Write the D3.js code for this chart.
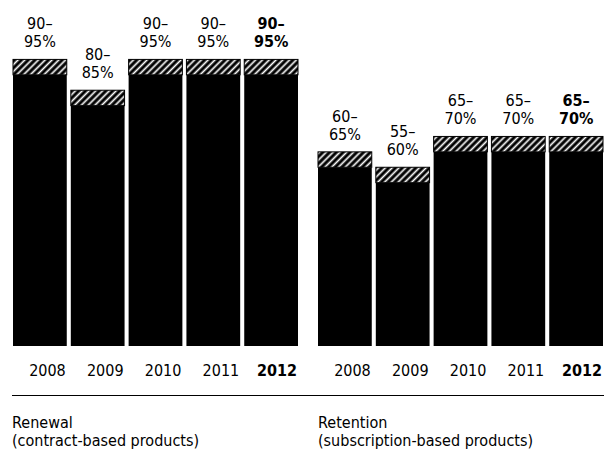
<!DOCTYPE html>
<html>
<head>
<meta charset="utf-8">
<script src="https://cdn.jsdelivr.net/npm/d3@7"></script>
<style>
  html, body { margin: 0; padding: 0; background: #fff; }
  svg { display: block; }
  text { font-family: "Liberation Sans Narrow", "Arial Narrow", "DejaVu Sans Condensed", "DejaVu Sans", sans-serif; font-stretch: condensed; fill: #000; }
</style>
</head>
<body>
<svg id="chart" width="604" height="452"></svg>
<script>
// Years shown under each group
const years = ["2008", "2009", "2010", "2011", "2012"];

// Renewal rate ranges (contract-based products), percent
const renewalLow  = [90, 80, 90, 90, 90];
const renewalHigh = [95, 85, 95, 95, 95];

// Retention rate ranges (subscription-based products), percent
const retentionLow  = [60, 55, 65, 65, 65];
const retentionHigh = [65, 60, 70, 70, 70];

// Group captions
const groupTitles = ["Renewal", "Retention"];
const groupSubtitles = ["(contract-based products)", "(subscription-based products)"];

const highlightYear = "2012";

const svg = d3.select("#chart");
const W = 604;
const baseline = 346;
const FS = 16;

// Shared vertical scale for both groups
const y = d3.scaleLinear().domain([2, 100]).range([baseline, 44]);

// Diagonal hatch for the range part of each bar
const defs = svg.append("defs");
const pat = defs.append("pattern")
  .attr("id", "hatch")
  .attr("patternUnits", "userSpaceOnUse")
  .attr("width", 4.8)
  .attr("height", 4.8)
  .attr("patternTransform", "rotate(45)");
pat.append("rect").attr("width", 4.8).attr("height", 4.8).attr("fill", "#000");
pat.append("rect").attr("x", 1.5).attr("width", 1.7).attr("height", 4.8).attr("fill", "#fff");

const groups = [
  { low: renewalLow, high: renewalHigh, range: [13, 298], titleX: 12 },
  { low: retentionLow, high: retentionHigh, range: [318, 603], titleX: 318 }
];

groups.forEach((g, gi) => {
  const x = d3.scaleBand().domain(years).range(g.range).paddingInner(0.07);
  const rows = years.map((yr, i) => ({ year: yr, low: g.low[i], high: g.high[i] }));
  const G = svg.append("g");

  // Solid part: baseline up to the low end of the range
  G.selectAll("rect.solid").data(rows).join("rect")
    .attr("class", "solid")
    .attr("x", d => x(d.year))
    .attr("width", x.bandwidth())
    .attr("y", d => y(d.low))
    .attr("height", d => baseline - y(d.low))
    .attr("fill", "#000");

  // Hatched part: low to high end of the range
  G.selectAll("rect.range").data(rows).join("rect")
    .attr("class", "range")
    .attr("x", d => x(d.year))
    .attr("width", x.bandwidth())
    .attr("y", d => y(d.high))
    .attr("height", d => y(d.low) - y(d.high))
    .attr("fill", "url(#hatch)")
    .attr("stroke", "#000")
    .attr("stroke-width", 1);

  // Two-line value label above each bar
  const cx = d => x(d.year) + x.bandwidth() / 2;
  const wt = d => d.year === highlightYear ? "bold" : "normal";
  G.selectAll("text.lo").data(rows).join("text")
    .attr("class", "lo")
    .attr("text-anchor", "middle")
    .attr("font-size", FS)
    .attr("font-weight", wt)
    .attr("x", cx)
    .attr("y", d => y(d.high) - 30)
    .text(d => d.low + "–");
  G.selectAll("text.hi").data(rows).join("text")
    .attr("class", "hi")
    .attr("text-anchor", "middle")
    .attr("font-size", FS)
    .attr("font-weight", wt)
    .attr("x", cx)
    .attr("y", d => y(d.high) - 12)
    .text(d => d.high + "%");

  // Year axis, labels flush with the right edge of each bar
  const axis = d3.axisBottom(x).tickSize(0).tickPadding(0);
  const ax = G.append("g").attr("transform", `translate(0,${baseline})`).call(axis);
  ax.select(".domain").remove();
  ax.attr("font-family", null).attr("font-size", null);
  ax.selectAll(".tick text")
    .attr("x", x.bandwidth() / 2 - 1)
    .attr("y", 30)
    .attr("dy", 0)
    .attr("text-anchor", "end")
    .attr("font-size", FS)
    .attr("font-weight", d => d === highlightYear ? "bold" : "normal");

  // Group caption
  G.append("text").attr("font-size", FS)
    .attr("x", g.titleX).attr("y", 428).text(groupTitles[gi]);
  G.append("text").attr("font-size", FS)
    .attr("x", g.titleX).attr("y", 446).text(groupSubtitles[gi]);
});

// Rule separating the year labels from the captions
svg.append("line")
  .attr("x1", 12).attr("x2", W)
  .attr("y1", 395.5).attr("y2", 395.5)
  .attr("stroke", "#000")
  .attr("stroke-width", 1);
</script>
</body>
</html>
